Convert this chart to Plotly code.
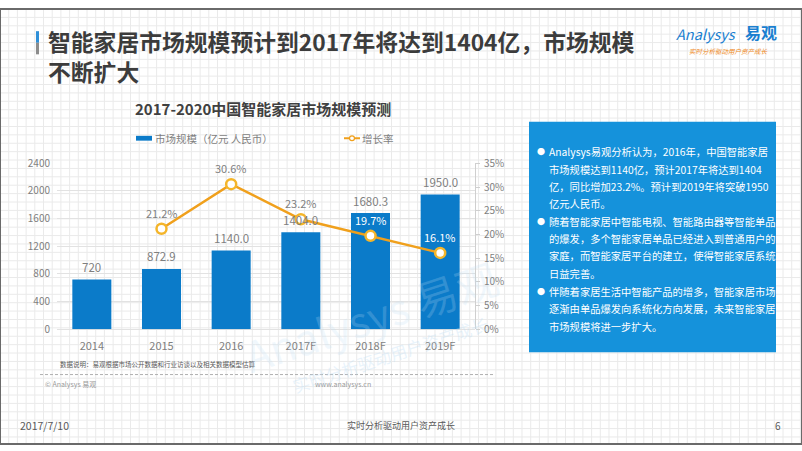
import plotly.graph_objects as go

# ---------------- data ----------------
categories = ["2014", "2015", "2016", "2017F", "2018F", "2019F"]
market_size = [720, 872.9, 1140.0, 1404.0, 1680.3, 1950.0]
size_labels = ["720", "872.9", "1140.0", "1404.0", "1680.3", "1950.0"]
growth_cats = ["2015", "2016", "2017F", "2018F", "2019F"]
growth_rate = [0.212, 0.306, 0.232, 0.197, 0.161]
growth_labels = ["21.2%", "30.6%", "23.2%", "19.7%", "16.1%"]
left_ticks = [0, 400, 800, 1200, 1600, 2000, 2400]
right_ticks = [0, 0.05, 0.10, 0.15, 0.20, 0.25, 0.30, 0.35]

title_line1 = "智能家居市场规模预计到2017年将达到1404亿，市场规模"
title_line2 = "不断扩大"
chart_title = "2017-2020中国智能家居市场规模预测"
legend_bar = "市场规模（亿元 人民币）"
legend_line = "增长率"
box_lines = [
    ("● ", "Analysys易观分析认为，2016年，中国智能家居"),
    ("", "市场规模达到1140亿，预计2017年将达到1404"),
    ("", "亿，同比增加23.2%。预计到2019年将突破1950"),
    ("", "亿元人民币。"),
    ("● ", "随着智能家居中智能电视、智能路由器等智能单品"),
    ("", "的爆发，多个智能家居单品已经进入到普通用户的"),
    ("", "家庭，而智能家居平台的建立，使得智能家居系统"),
    ("", "日益完善。"),
    ("● ", "伴随着家居生活中智能产品的增多，智能家居市场"),
    ("", "逐渐由单品爆发向系统化方向发展，未来智能家居"),
    ("", "市场规模将进一步扩大。"),
]
box_line_y = [148, 166, 184, 202, 220, 238, 256, 274, 293, 311, 329]

W, H = 802, 451
FONT = "Noto Sans CJK SC"
BAR_COLOR = "#0B7BC9"
LINE_COLOR = "#F0A01C"
GRAY = "#7f7f7f"


def px(x):
    return x / W


def py(y):
    return 1 - y / H


fig = go.Figure()

fig.add_trace(go.Bar(
    x=categories, y=market_size, marker=dict(color=BAR_COLOR, line=dict(width=0)),
    yaxis="y", showlegend=False, hoverinfo="skip"))

fig.add_trace(go.Scatter(
    x=growth_cats, y=growth_rate, yaxis="y2", mode="lines+markers",
    line=dict(color=LINE_COLOR, width=2.5),
    marker=dict(size=10, color="white", line=dict(color="#F4B52A", width=2.5)),
    showlegend=False, hoverinfo="skip"))

annotations = []
# bar value labels (x given as category index)
for c, v, t in zip(categories, market_size, size_labels):
    annotations.append(dict(x=categories.index(c), y=v, xref="x", yref="y", text=t,
                            showarrow=False, yshift=12.5, yanchor="middle",
                            font=dict(family=FONT, size=11.5, color=GRAY)))
# growth labels
for i, (c, v, t) in enumerate(zip(growth_cats, growth_rate, growth_labels)):
    col = GRAY if i < 3 else "white"
    annotations.append(dict(x=categories.index(c), y=v, xref="x", yref="y2", text=t,
                            showarrow=False, yshift=16, yanchor="middle",
                            font=dict(family=FONT, size=11, color=col)))

# slide title (two lines in one text block)
annotations.append(dict(x=px(46), y=py(49), xref="paper", yref="paper",
                        text=title_line1 + "<br>" + title_line2,
                        showarrow=False, xanchor="left", yanchor="middle", align="left",
                        font=dict(family=FONT, size=22.8, color="#3c3c3c", weight="bold")))
annotations.append(dict(x=px(263), y=py(103), xref="paper", yref="paper", text=chart_title,
                        showarrow=False, xanchor="center", yanchor="middle",
                        font=dict(family=FONT, size=15, color="#404040", weight="bold")))

# legend texts
annotations.append(dict(x=px(153), y=py(134), xref="paper", yref="paper", text=legend_bar,
                        showarrow=False, xanchor="left", yanchor="middle",
                        font=dict(family=FONT, size=10.5, color=GRAY)))
annotations.append(dict(x=px(360), y=py(134), xref="paper", yref="paper", text=legend_line,
                        showarrow=False, xanchor="left", yanchor="middle",
                        font=dict(family=FONT, size=10.5, color=GRAY)))

# logo
annotations.append(dict(x=px(738), y=py(25), xref="paper", yref="paper",
                        text="<i>Analysys</i>", showarrow=False, xanchor="right", yanchor="middle",
                        font=dict(family=FONT, size=14.5, color="#1A7FD0")))
annotations.append(dict(x=px(743), y=py(24), xref="paper", yref="paper",
                        text="易观", showarrow=False, xanchor="left", yanchor="middle",
                        font=dict(family=FONT, size=16, color="#1A7FD0", weight="bold")))
annotations.append(dict(x=px(728), y=py(44), xref="paper", yref="paper",
                        text="<i>实时分析驱动用户资产成长</i>", showarrow=False, xanchor="center",
                        yanchor="middle", font=dict(family=FONT, size=6.5, color="#F08A1C")))

# text box lines
for (b, t), yy in zip(box_lines, box_line_y):
    if b:
        annotations.append(dict(x=px(541), y=py(yy), xref="paper", yref="paper", text="●",
                                showarrow=False, xanchor="center", yanchor="middle",
                                font=dict(family=FONT, size=8, color="white")))
    annotations.append(dict(x=px(547), y=py(yy), xref="paper", yref="paper", text=t,
                            showarrow=False, xanchor="left", yanchor="middle",
                            font=dict(family=FONT, size=10.3, color="white")))

# footer
annotations.append(dict(x=px(58), y=py(368), xref="paper", yref="paper",
                        text="数据说明：易观根据市场公开数据和行业访谈以及相关数据模型估算",
                        showarrow=False, xanchor="left", yanchor="middle",
                        font=dict(family=FONT, size=6.5, color="#595959")))
annotations.append(dict(x=px(43), y=py(389), xref="paper", yref="paper", text="© Analysys 易观",
                        showarrow=False, xanchor="left", yanchor="middle",
                        font=dict(family=FONT, size=7, color="#9a9a9a")))
annotations.append(dict(x=px(313), y=py(389), xref="paper", yref="paper", text="www.analysys.cn",
                        showarrow=False, xanchor="left", yanchor="middle",
                        font=dict(family=FONT, size=7, color="#9a9a9a")))
annotations.append(dict(x=px(18), y=py(432), xref="paper", yref="paper", text="2017/7/10",
                        showarrow=False, xanchor="left", yanchor="middle",
                        font=dict(family=FONT, size=10.5, color="#595959")))
annotations.append(dict(x=px(401), y=py(432), xref="paper", yref="paper",
                        text="实时分析驱动用户资产成长",
                        showarrow=False, xanchor="center", yanchor="middle",
                        font=dict(family=FONT, size=9, color="#595959")))
annotations.append(dict(x=px(778), y=py(432), xref="paper", yref="paper", text="6",
                        showarrow=False, xanchor="center", yanchor="middle",
                        font=dict(family=FONT, size=10, color="#595959")))

# watermark (faint)
annotations.append(dict(x=px(370), y=py(318), xref="paper", yref="paper", text="Analysys 易观",
                        showarrow=False, textangle=-18, xanchor="center", yanchor="middle",
                        font=dict(family=FONT, size=42, color="rgba(190,222,245,0.22)")))
annotations.append(dict(x=px(390), y=py(358), xref="paper", yref="paper",
                        text="实时分析驱动用户资产成长",
                        showarrow=False, textangle=-18, xanchor="center", yanchor="middle",
                        font=dict(family=FONT, size=17, color="rgba(190,222,245,0.35)")))

# ---------------- shapes ----------------
shapes = []
# background graph paper grid
step = 8.7
segs = []
x = 0.0
while x <= W:
    segs.append(f"M{px(x):.5f},0 L{px(x):.5f},1")
    x += step
y = 0.0
while y <= H:
    segs.append(f"M0,{py(y):.5f} L1,{py(y):.5f}")
    y += step
shapes.append(dict(type="path", xref="paper", yref="paper", path=" ".join(segs),
                   line=dict(color="#eaeaea", width=1), layer="below"))
# title accent bar
shapes.append(dict(type="rect", xref="paper", yref="paper", x0=px(36), x1=px(39),
                   y0=py(35), y1=py(23), fillcolor="#2E8FD8", line=dict(width=0), layer="below"))
shapes.append(dict(type="rect", xref="paper", yref="paper", x0=px(36), x1=px(39),
                   y0=py(47), y1=py(35), fillcolor="#8c8c8c", line=dict(width=0), layer="below"))
# legend symbols
shapes.append(dict(type="rect", xref="paper", yref="paper", x0=px(136), x1=px(152),
                   y0=py(136.5), y1=py(131.5), fillcolor=BAR_COLOR, line=dict(width=0)))
shapes.append(dict(type="line", xref="paper", yref="paper", x0=px(344), x1=px(360),
                   y0=py(134), y1=py(134), line=dict(color=LINE_COLOR, width=2)))
shapes.append(dict(type="circle", xref="paper", yref="paper", x0=px(349.5), x1=px(354.5),
                   y0=py(136.5), y1=py(131.5), fillcolor="white",
                   line=dict(color=LINE_COLOR, width=1.2)))
# text box
shapes.append(dict(type="rect", xref="paper", yref="paper", x0=px(529), x1=px(776),
                   y0=py(356), y1=py(117), fillcolor="#1592DB", line=dict(width=0), layer="below"))
# footer dashed rule
shapes.append(dict(type="line", xref="paper", yref="paper", x0=px(40), x1=px(495),
                   y0=py(379), y1=py(379), line=dict(color="#b0b0b0", width=1, dash="3px,2px")))
# slide frame
shapes.append(dict(type="rect", xref="paper", yref="paper", x0=0, x1=1, y0=0, y1=1,
                   line=dict(color="#6a6a6a", width=2), fillcolor="rgba(0,0,0,0)"))

fig.update_layout(
    width=W, height=H,
    margin=dict(l=0, r=0, t=0, b=0, pad=0),
    paper_bgcolor="white", plot_bgcolor="rgba(0,0,0,0)",
    bargap=0.44,
    font=dict(family=FONT, color=GRAY),
    xaxis=dict(domain=[px(57), px(475)], type="category", categoryorder="array",
               categoryarray=categories, range=[-0.5, len(categories) - 0.5],
               showgrid=False, showline=False, ticks="", zeroline=False,
               tickfont=dict(family=FONT, size=11, color=GRAY), ticklabelstandoff=9,
               fixedrange=True),
    yaxis=dict(domain=[py(332), py(160)], range=[0, 2400], tickvals=left_ticks,
               showgrid=True, gridcolor="#e2e2e2", gridwidth=1, zeroline=True,
               zerolinecolor="#e2e2e2", zerolinewidth=1, showline=False, ticks="",
               tickfont=dict(family=FONT, size=10, color=GRAY), ticklabelstandoff=6,
               fixedrange=True),
    yaxis2=dict(domain=[py(332), py(160)], range=[0, 0.35], overlaying="y", side="right",
                anchor="x", tickvals=right_ticks, tickformat=".0%", showgrid=False,
                zeroline=False, showline=True, linecolor="#cfcfcf", linewidth=1,
                ticks="outside", ticklen=4, tickcolor="#cfcfcf",
                tickfont=dict(family=FONT, size=10, color=GRAY), ticklabelstandoff=2,
                fixedrange=True),
    annotations=annotations,
    shapes=shapes,
    showlegend=False,
)

fig.write_html("out.html", config={"displayModeBar": False},
               post_script="document.body.style.margin='0';document.body.style.overflow='hidden';")
